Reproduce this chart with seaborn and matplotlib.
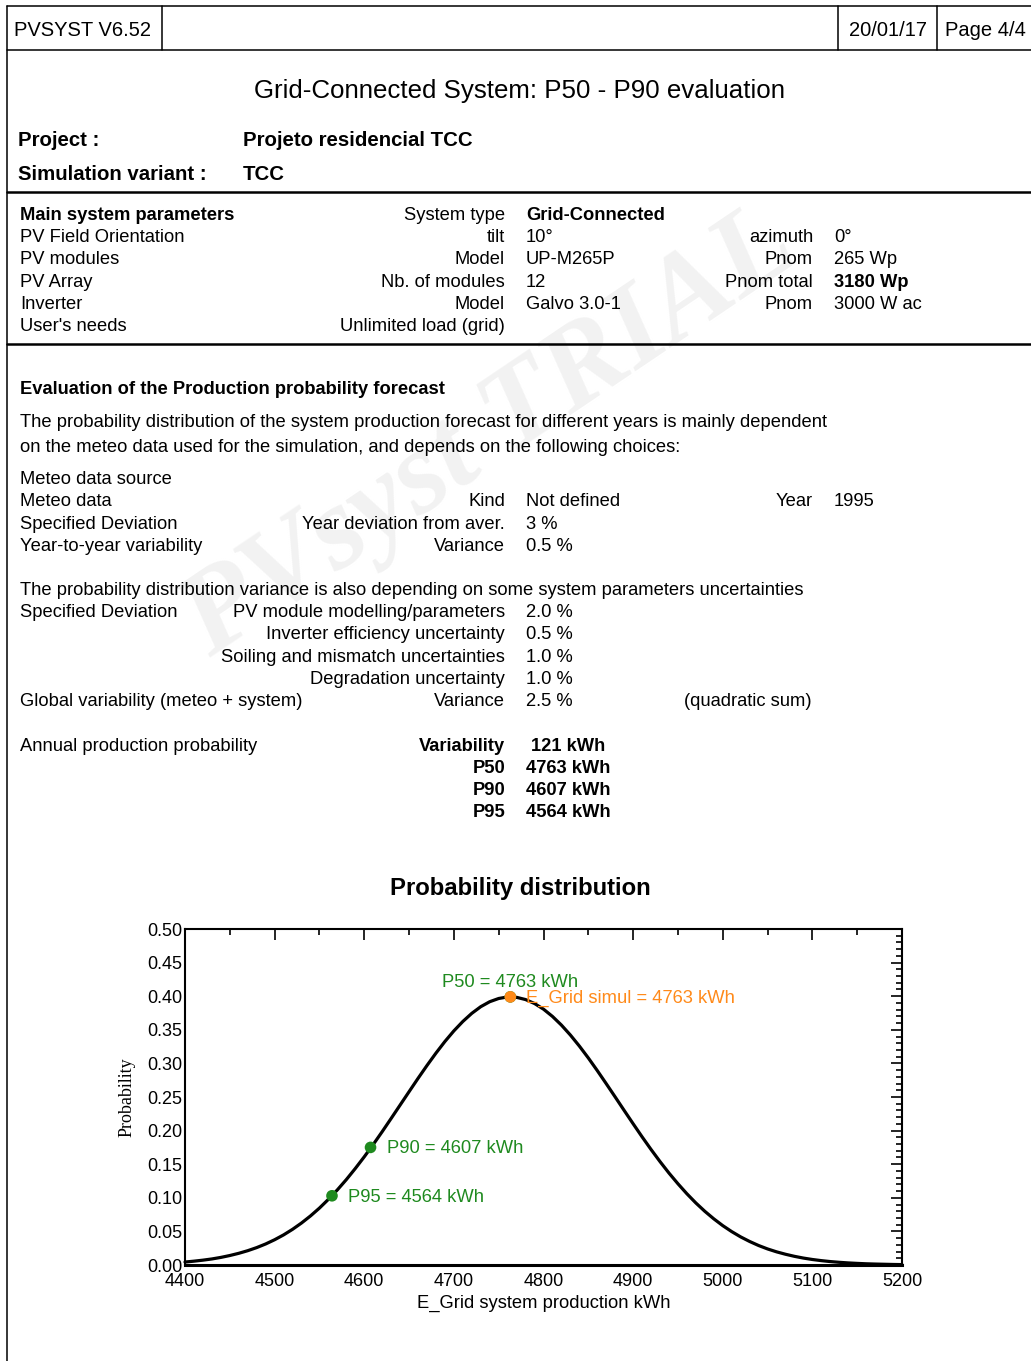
import matplotlib
matplotlib.use("Agg")
import matplotlib.pyplot as plt
from matplotlib.lines import Line2D
from matplotlib.ticker import MultipleLocator, FormatStrFormatter
import pandas as pd
import seaborn as sns

# ---------------- data ----------------
energy_kwh = list(range(4400, 5201, 10))
probability = [
    0.0044, 0.0057, 0.0072, 0.0090, 0.0113, 0.0141, 0.0174, 0.0213, 0.0259, 0.0313,
    0.0376, 0.0448, 0.0531, 0.0625, 0.0730, 0.0847, 0.0977, 0.1118, 0.1271, 0.1436,
    0.1610, 0.1793, 0.1984, 0.2181, 0.2380, 0.2579, 0.2777, 0.2969, 0.3153, 0.3326,
    0.3484, 0.3624, 0.3745, 0.3844, 0.3918, 0.3966, 0.3989, 0.3983, 0.3950, 0.3891,
    0.3807, 0.3699, 0.3570, 0.3422, 0.3258, 0.3081, 0.2893, 0.2698, 0.2500, 0.2300,
    0.2102, 0.1907, 0.1719, 0.1539, 0.1368, 0.1209, 0.1060, 0.0923, 0.0799, 0.0687,
    0.0586, 0.0497, 0.0418, 0.0350, 0.0290, 0.0239, 0.0196, 0.0160, 0.0129, 0.0103,
    0.0082, 0.0065, 0.0051, 0.0040, 0.0031, 0.0024, 0.0018, 0.0014, 0.0011, 0.0008,
    0.0006,
]
p_names = ["P50", "P90", "P95"]
p_energy = [4763, 4607, 4564]
p_prob = [0.399, 0.175, 0.103]
simul_energy = 4763
simul_prob = 0.399
variability_kwh = 121

x_ticks = [4400, 4500, 4600, 4700, 4800, 4900, 5000, 5100, 5200]
y_ticks = [0.00, 0.05, 0.10, 0.15, 0.20, 0.25, 0.30, 0.35, 0.40, 0.45, 0.50]

param_groups = ["Main system parameters", "PV Field Orientation", "PV modules",
                "PV Array", "Inverter", "User's needs"]
param_keys = ["System type", "tilt", "Model", "Nb. of modules", "Model",
              "Unlimited load (grid)"]
param_values = ["Grid-Connected", "10°", "UP-M265P", "12", "Galvo 3.0-1", ""]
param_keys2 = ["", "azimuth", "Pnom", "Pnom total", "Pnom", ""]
param_values2 = ["", "0°", "265 Wp", "3180 Wp", "3000 W ac", ""]

meteo_groups = ["Meteo data source", "Meteo data", "Specified Deviation",
                "Year-to-year variability"]
meteo_keys = ["", "Kind", "Year deviation from aver.", "Variance"]
meteo_values = ["", "Not defined", "3 %", "0.5 %"]

unc_groups = ["Specified Deviation", "", "", "", "Global variability (meteo + system)"]
unc_keys = ["PV module modelling/parameters", "Inverter efficiency uncertainty",
            "Soiling and mismatch uncertainties", "Degradation uncertainty", "Variance"]
unc_values = ["2.0 %", "0.5 %", "1.0 %", "1.0 %", "2.5 %"]

# ---------------- style ----------------
sns.set_theme(style="white")
plt.rcParams["font.family"] = ["Liberation Sans", "DejaVu Sans"]

W, H = 1031, 1361
fig = plt.figure(figsize=(W / 100, H / 100), dpi=100)
fig.patch.set_facecolor("white")

BODY = 13.2
GREEN = "#1f8a1f"
ORANGE = "#ff8a1a"


def put(x, y, s, size=BODY, weight="normal", ha="left", color="black", **kw):
    fig.text(x / W, 1 - y / H, s, fontsize=size, fontweight=weight, ha=ha,
             va="baseline", color=color, **kw)


def hline(y, x0, x1, lw=1.1):
    fig.add_artist(Line2D([x0 / W, x1 / W], [1 - y / H, 1 - y / H],
                          transform=fig.transFigure, color="black", lw=lw))


def vline(x, y0, y1, lw=1.1):
    fig.add_artist(Line2D([x / W, x / W], [1 - y0 / H, 1 - y1 / H],
                          transform=fig.transFigure, color="black", lw=lw))


# watermark
fig.text(490 / W, 1 - 435 / H, "PVsyst TRIAL", fontsize=86, fontweight="bold",
         fontstyle="italic", family=["Liberation Serif", "DejaVu Serif"],
         color="#f2f2f2", rotation=34, ha="center", va="center", zorder=0)

# page frame
hline(6, 7, W)
vline(7, 6, H)
hline(50, 7, W)
vline(162, 6, 50)
vline(838, 6, 50)
vline(937, 6, 50)
hline(192, 7, W, lw=1.8)
hline(344, 7, W, lw=1.8)

# header
put(14, 35.5, "PVSYST V6.52", size=14.5)
put(849, 35.5, "20/01/17", size=14.5)
put(945, 35.5, "Page 4/4", size=14.5)
put(520, 98, "Grid-Connected System: P50 - P90 evaluation", size=18.6, ha="center")
put(18, 146.5, "Project :", size=14.7, weight="bold")
put(243, 146.5, "Projeto residencial TCC", size=14.7, weight="bold")
put(18, 179.5, "Simulation variant :", size=14.7, weight="bold")
put(243, 179.5, "TCC", size=14.7, weight="bold")

# main system parameters
for i in range(len(param_groups)):
    yb = 220 + 22.2 * i
    put(20, yb, param_groups[i], weight="bold" if i == 0 else "normal")
    put(505, yb, param_keys[i], ha="right")
    put(526, yb, param_values[i], weight="bold" if i == 0 else "normal")
    put(813, yb, param_keys2[i], ha="right")
    put(834, yb, param_values2[i], weight="bold" if param_values2[i] == "3180 Wp" else "normal")

# production probability section
put(20, 394, "Evaluation of the Production probability forecast", weight="bold")
put(20, 427, "The probability distribution of the system production forecast for different years is mainly dependent")
put(20, 452, "on the meteo data used for the simulation, and depends on the following choices:")
for i in range(len(meteo_groups)):
    yb = 484 + 22.3 * i
    put(20, yb, meteo_groups[i])
    put(505, yb, meteo_keys[i], ha="right")
    put(526, yb, meteo_values[i])
put(813, 506, "Year", ha="right")
put(834, 506, "1995")

put(20, 595, "The probability distribution variance is also depending on some system parameters uncertainties")
for i in range(len(unc_groups)):
    yb = 617 + 22.3 * i
    put(20, yb, unc_groups[i])
    put(505, yb, unc_keys[i], ha="right")
    put(526, yb, unc_values[i])
put(684, 706, "(quadratic sum)")

put(20, 751, "Annual production probability")
put(505, 751, "Variability", weight="bold", ha="right")
put(531, 751, f"{variability_kwh} kWh", weight="bold")
for i, name in enumerate(p_names):
    yb = 773 + 22.2 * i
    put(505, yb, name, weight="bold", ha="right")
    put(526, yb, f"{p_energy[i]} kWh", weight="bold")

put(520, 895, "Probability distribution", size=17.2, weight="bold", ha="center")

# ---------------- chart ----------------
ax = fig.add_axes([185 / W, 1 - 1265 / H, 717 / W, 336 / H])
curve = pd.DataFrame({"energy": energy_kwh, "prob": probability})
sns.lineplot(data=curve, x="energy", y="prob", ax=ax, color="black", linewidth=2.3,
             clip_on=False, zorder=3)

pts = pd.DataFrame({"energy": p_energy, "prob": p_prob, "name": p_names})
sns.scatterplot(data=pts, x="energy", y="prob", ax=ax, color=GREEN, s=70,
                edgecolor="none", zorder=4, clip_on=False)
sns.scatterplot(x=[simul_energy], y=[simul_prob], ax=ax, color=ORANGE, s=70,
                edgecolor="none", zorder=5, clip_on=False)

for name, e, p in zip(p_names, p_energy, p_prob):
    if name == "P50":
        ax.annotate(f"{name} = {e} kWh", (e, p), xytext=(0, 10), textcoords="offset pixels",
                    ha="center", va="baseline", color=GREEN, fontsize=BODY)
    else:
        ax.annotate(f"{name} = {e} kWh", (e, p), xytext=(16, -6), textcoords="offset pixels",
                    ha="left", va="baseline", color=GREEN, fontsize=BODY)
ax.annotate(f"E_Grid simul = {simul_energy} kWh", (simul_energy, simul_prob), xytext=(16, -6),
            textcoords="offset pixels", ha="left", va="baseline", color=ORANGE, fontsize=BODY)

ax.set_xlim(x_ticks[0], x_ticks[-1])
ax.set_ylim(y_ticks[0], y_ticks[-1])
ax.set_xticks(x_ticks)
ax.set_yticks(y_ticks)
ax.xaxis.set_minor_locator(MultipleLocator(50))
ax.yaxis.set_minor_locator(MultipleLocator(0.01))
ax.yaxis.set_major_formatter(FormatStrFormatter("%.2f"))
ax.tick_params(which="both", direction="in", top=True, right=True, color="black",
               width=1.2, labelsize=13, labelcolor="black")
ax.tick_params(which="major", length=8)
ax.tick_params(which="minor", length=4)
ax.tick_params(axis="x", pad=6)
ax.tick_params(axis="y", pad=2)
for side, sp in ax.spines.items():
    sp.set_visible(True)
    sp.set_color("black")
    sp.set_linewidth(2.2 if side == "bottom" else 1.5)

ax.set_xlabel("E_Grid system production kWh", fontsize=BODY, labelpad=3, color="black")
ax.set_ylabel("Probability", fontsize=13, labelpad=8, color="black",
              family=["Liberation Serif", "DejaVu Serif"])
ax.grid(False)

fig.savefig("out.png", dpi=100, facecolor="white")
